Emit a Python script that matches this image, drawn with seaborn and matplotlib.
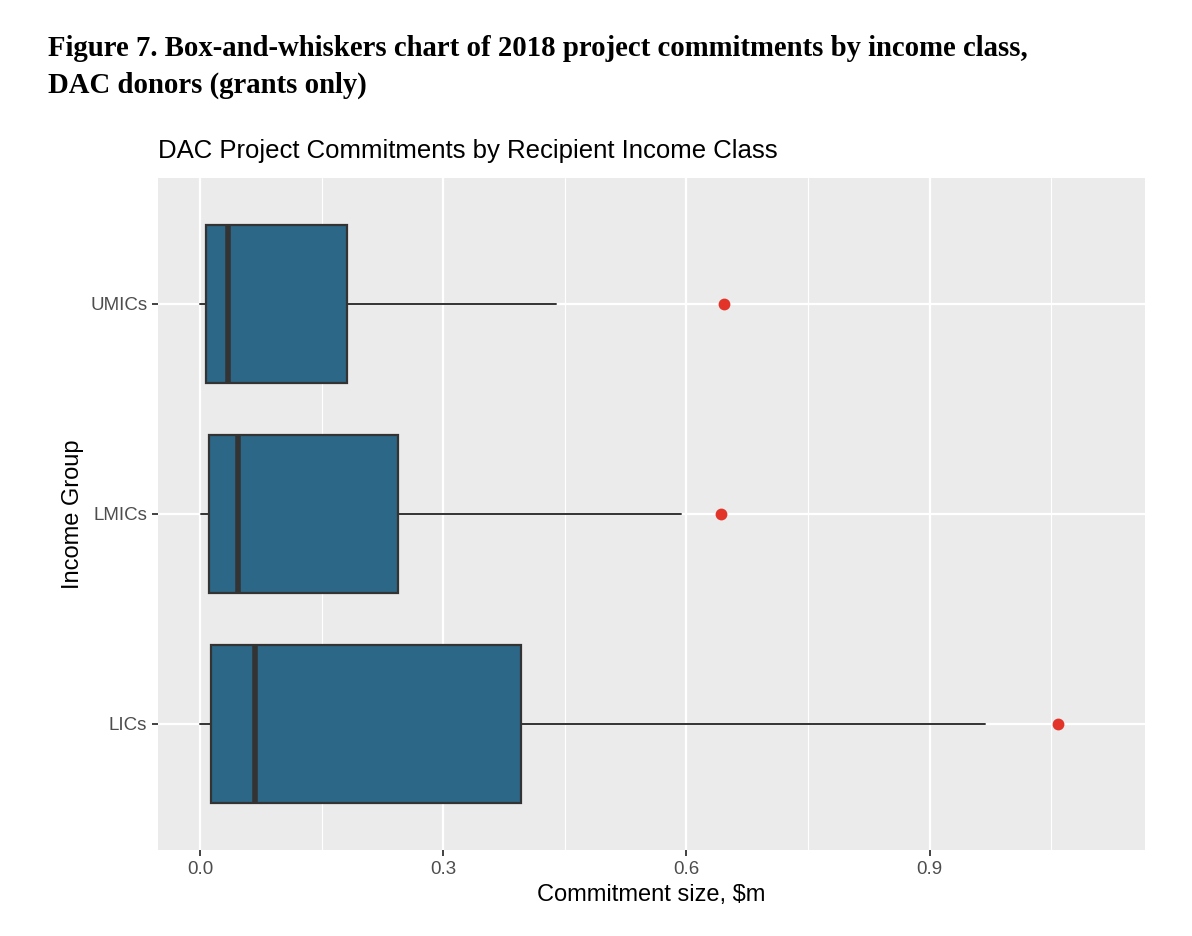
import numpy as np
import matplotlib
matplotlib.use("Agg")
import matplotlib.pyplot as plt
import seaborn as sns

# =====================================================
# DATA ($m)
# =====================================================

groups = ["UMICs", "LMICs", "LICs"]

whisker_low = [0.000, 0.001, 0.000]
q1 = [0.007, 0.010, 0.013]
median = [0.034, 0.047, 0.067]
q3 = [0.181, 0.244, 0.396]
whisker_high = [0.439, 0.593, 0.969]
outliers = [0.646, 0.642, 1.058]

x_ticks = [0.0, 0.3, 0.6, 0.9]
x_tick_labels = ["0.0", "0.3", "0.6", "0.9"]
x_minor = [0.15, 0.45, 0.75, 1.05]

# =====================================================
# STYLE
# =====================================================

sns.set_theme(style="darkgrid", rc={
    "axes.facecolor": "#EBEBEB",
    "grid.color": "white",
})
plt.rcParams["font.family"] = ["Liberation Sans", "DejaVu Sans"]

box_fill = "#2C6787"
edge = "#333333"
red = "#E3342A"

fig = plt.figure(figsize=(11.92, 9.36), dpi=100)
ax = fig.add_axes([158.3 / 1192, 1 - 850 / 936, (1145 - 158.3) / 1192, (850 - 178) / 936])

# =====================================================
# BOXES
# =====================================================

stats = []
for i, g in enumerate(groups):
    stats.append({
        "label": g,
        "whislo": whisker_low[i],
        "q1": q1[i],
        "med": median[i],
        "q3": q3[i],
        "whishi": whisker_high[i],
        "fliers": [],
    })

ax.bxp(
    stats,
    positions=range(len(groups)),
    widths=0.75,
    orientation="horizontal",
    patch_artist=True,
    showcaps=False,
    boxprops=dict(facecolor=box_fill, edgecolor=edge, linewidth=1.6),
    medianprops=dict(color=edge, linewidth=4),
    whiskerprops=dict(color=edge, linewidth=1.4),
    zorder=2,
)

sns.stripplot(
    x=outliers,
    y=groups,
    order=groups,
    jitter=False,
    color=red,
    size=8.5,
    linewidth=0,
    ax=ax,
    zorder=3,
)

# =====================================================
# AXES
# =====================================================

ax.set_xlim(-0.052, 1.166)
ax.set_ylim(2.6, -0.6)

ax.set_xticks(x_ticks)
ax.set_xticklabels(x_tick_labels)
ax.set_xticks(x_minor, minor=True)
ax.set_yticks(range(len(groups)))
ax.set_yticklabels(groups)

ax.grid(which="major", color="white", linewidth=1.6)
ax.grid(which="minor", axis="x", color="white", linewidth=0.8)
ax.set_axisbelow(True)

for s in ax.spines.values():
    s.set_visible(False)

ax.tick_params(axis="both", which="major", bottom=True, left=True,
               length=4, width=1.3, color=edge, labelsize=13.5,
               labelcolor="#4D4D4D", pad=4)
ax.tick_params(axis="both", which="minor", bottom=False, left=False)

ax.set_xlabel("Commitment size, $m", fontsize=17, color="black")
ax.set_ylabel("Income Group", fontsize=17, color="black")
ax.xaxis.set_label_coords(0.5, (850 - 884) / 672)
ax.yaxis.set_label_coords((84 - 158.3) / 986.7, 0.5)

# =====================================================
# TITLES
# =====================================================

fig.text(158 / 1192, 1 - 157.5 / 936,
         "DAC Project Commitments by Recipient Income Class",
         fontsize=18.5, color="black", va="baseline", ha="left")

serif = ["Liberation Serif", "DejaVu Serif"]
fig.text(48 / 1192, 1 - 56 / 936,
         "Figure 7. Box-and-whiskers chart of 2018 project commitments by income class,",
         family=serif, fontweight="bold",
         fontsize=20.7, color="black", va="baseline", ha="left")
fig.text(48 / 1192, 1 - 93 / 936,
         "DAC donors (grants only)",
         family=serif, fontweight="bold",
         fontsize=20.7, color="black", va="baseline", ha="left")

fig.savefig("out.png", dpi=100, facecolor="white")
